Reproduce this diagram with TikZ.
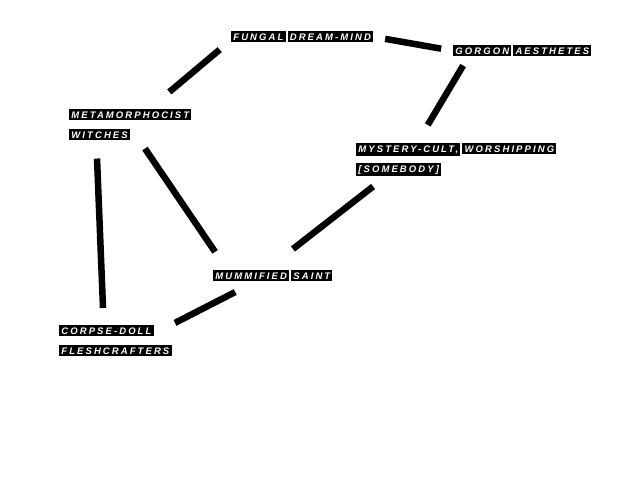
\documentclass[tikz,border=0pt]{standalone}
\usepackage{fontspec}
\usetikzlibrary{calc}
\newfontfamily\labfont[LetterSpace=22]{Liberation Sans}
\newcommand{\wb}[1]{\colorbox{black}{\textcolor{white}{#1}}}
\setlength{\fboxsep}{2.2pt}
\tikzset{
  lab/.style={inner sep=0pt, anchor=north west, align=left,
    font=\labfont\bfseries\itshape\fontsize{9.5}{20}\selectfont},
  edge/.style={line width=6.5pt, black}
}
\begin{document}
\begin{tikzpicture}[x=1pt,y=-1pt]
\fill[white] (0,0) rectangle (640,480);
\useasboundingbox (0,0) rectangle (640,480);
\node[lab] (fung) at (231,31) {\wb{FUNGAL}\hspace{2pt}\wb{DREAM-MIND}};
\node[lab] (gorg) at (453,45) {\wb{GORGON}\hspace{2pt}\wb{AESTHETES}};
\node[lab] (met) at (69,109) {\wb{METAMORPHOCIST}\\\wb{WITCHES}};
\node[lab] (myst) at (356,143) {\wb{MYSTERY-CULT,}\hspace{2pt}\wb{WORSHIPPING}\\\wb{[SOMEBODY]}};
\node[lab] (mum) at (213,270) {\wb{MUMMIFIED}\hspace{2pt}\wb{SAINT}};
\node[lab] (corp) at (59,325) {\wb{CORPSE-DOLL}\\\wb{FLESHCRAFTERS}};

\draw[edge, shorten <=51pt, shorten >=20pt] (met.center) -- ($(fung.west)+(4,0)$);
\draw[edge, shorten <=12pt, shorten >=12pt] (fung.east) -- (gorg.west);
\draw[edge, shorten <=10.5pt, shorten >=21pt] ($(gorg.south west)+(15.5,0)$) -- ($(myst.north west)+(61,0)$);
\draw[edge, shorten <=16.4pt, shorten >=34.2pt] ($(myst.south west)+(30,0)$) -- ($(mum.north west)+(53,0)$);
\draw[edge, shorten <=9.7pt, shorten >=21.9pt] ($(met.south west)+(70.5,0)$) -- ($(mum.north west)+(14.4,0)$);
\draw[edge, shorten <=18pt, shorten >=17pt] ($(met.south west)+(27.3,0)$) -- ($(corp.north west)+(44.7,0)$);
\draw[edge, shorten <=23pt, shorten >=4.6pt] ($(mum.south west)+(42.7,0)$) -- ($(corp.north west)+(111.9,0)$);
\end{tikzpicture}
\end{document}
